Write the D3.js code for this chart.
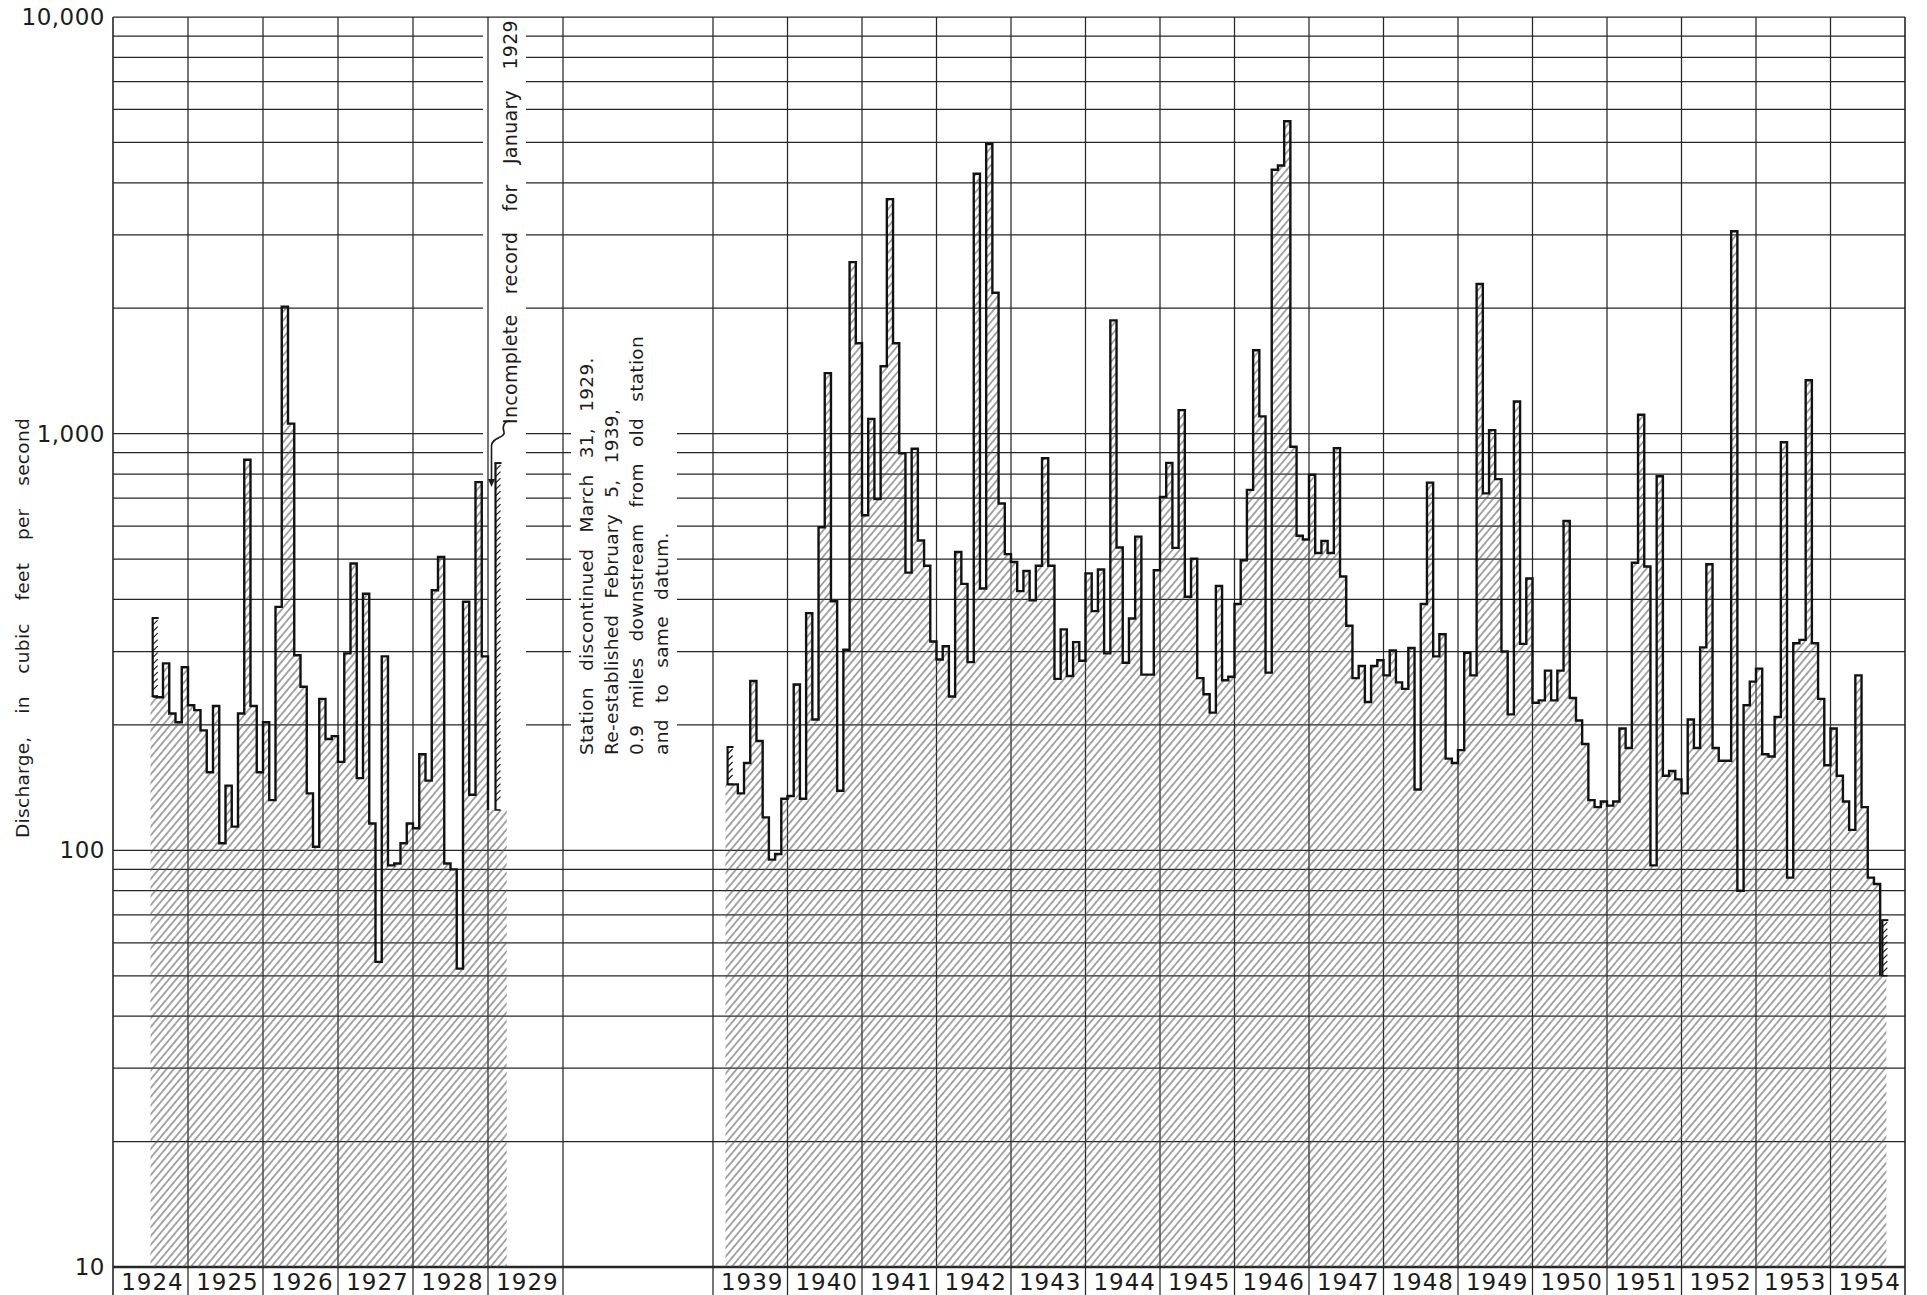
<!DOCTYPE html>
<html>
<head>
<meta charset="utf-8">
<script src="https://cdn.jsdelivr.net/npm/d3@7"></script>
<style>
  html, body { margin: 0; padding: 0; background: #fff; }
  svg { display: block; }
  text { font-family: "DejaVu Sans", sans-serif; fill: #1c1c1c; }
</style>
</head>
<body>
<div id="chart"></div>
<script>
// monthly mean discharge, cubic feet per second
// first record: July 1924 - December 1928
const earlyFlow = [
  234, 233, 281, 213, 203, 275,                              // 1924 Jul-Dec
  223, 217, 194, 154, 222, 104, 143, 114, 213, 866, 222, 154, // 1925
  203, 132, 384, 2018, 1057, 294, 247, 137, 102, 231, 185, 188, // 1926
  163, 297, 488, 149, 413, 116, 54, 292, 92, 93, 104, 116,    // 1927
  113, 170, 147, 421, 506, 93, 90, 52, 395, 136, 765, 292     // 1928
];
// January - March 1929, hatched below the incomplete January record
const strip1929 = [125, 125, 125];

// second record: March 1939 - September 1954
const lateFlow = [
  144, 144, 137, 162, 255, 183, 120, 95, 98, 133,             // 1939 Mar-Dec
  135, 250, 133, 371, 206, 596, 1397, 396, 139, 303, 2580, 1648, // 1940
  637, 1085, 697, 1451, 3655, 1648, 897, 464, 920, 554, 482, 317, // 1941
  287, 309, 234, 520, 436, 283, 4207, 425, 4955, 2178, 680, 514,  // 1942
  492, 419, 468, 398, 482, 873, 482, 258, 339, 262, 316, 285,     // 1943
  462, 375, 472, 297, 1870, 533, 282, 360, 566, 264, 264, 470,    // 1944
  705, 851, 532, 1139, 406, 501, 259, 237, 214, 431, 256, 261,    // 1945
  390, 497, 733, 1585, 1100, 267, 4300, 4400, 5623, 930, 569, 557, // 1946
  797, 517, 553, 517, 923, 454, 346, 259, 277, 227, 277, 286,     // 1947
  263, 302, 253, 244, 306, 140, 390, 763, 292, 330, 166, 162,     // 1948
  174, 298, 263, 2286, 719, 1020, 778, 300, 212, 1195, 313, 449,  // 1949
  226, 229, 270, 229, 270, 617, 232, 205, 180, 132, 127, 131,     // 1950
  128, 131, 196, 176, 490, 1110, 480, 92, 790, 151, 155, 148,     // 1951
  137, 206, 176, 307, 486, 176, 164, 164, 3060, 80, 223, 254,     // 1952
  273, 170, 168, 209, 954, 86, 314, 320, 1343, 314, 231, 160,     // 1953
  196, 151, 131, 112, 263, 127, 86, 83, 50                        // 1954 Jan-Sep
];

// months with part record only: drawn as a ticked range
const partialMonths = [
  { year: 1924, month: 6, low: 234, high: 361 },
  { year: 1929, month: 0, low: 125, high: 850 },
  { year: 1939, month: 2, low: 144, high: 177 },
  { year: 1954, month: 8, low: 50, high: 68 }
];

const earlyYears = [1924, 1925, 1926, 1927, 1928, 1929];
const lateYears = [1939, 1940, 1941, 1942, 1943, 1944, 1945, 1946,
                   1947, 1948, 1949, 1950, 1951, 1952, 1953, 1954];
const yLabelValues = [10, 100, 1000, 10000];

const width = 1927;
const height = 1295;
const plotTop = 17;
const plotBottom = 1267;
const plotLeft = 113;
const plotRight = 1905;

const y = d3.scaleLog().domain([10, 10000]).range([plotBottom, plotTop]);
const xEarly = d3.scaleLinear().domain([1924, 1930]).range([plotLeft, 563]);
const xLate = d3.scaleLinear().domain([1939, 1955]).range([713, plotRight]);

const svg = d3.select("#chart").append("svg")
  .attr("width", width).attr("height", height)
  .attr("viewBox", `0 0 ${width} ${height}`);
svg.append("rect").attr("width", width).attr("height", height).attr("fill", "#fff");

const defs = svg.append("defs");
defs.append("pattern")
  .attr("id", "hatch")
  .attr("patternUnits", "userSpaceOnUse")
  .attr("width", 5.6).attr("height", 10)
  .attr("patternTransform", "rotate(40)")
  .append("line")
  .attr("x1", 2.8).attr("y1", 0).attr("x2", 2.8).attr("y2", 10)
  .attr("stroke", "#505050").attr("stroke-width", 1);

const gridG = svg.append("g");
const areaG = svg.append("g");
const lineG = svg.append("g");
const annoG = svg.append("g");

// ---- annotations first, so the grid can leave room for them
function spaceWords(sel, target) {
  const len = sel.node().getComputedTextLength();
  const gaps = (sel.text().match(/ /g) || []).length;
  if (gaps) sel.attr("word-spacing", Math.max(0, (target - len) / gaps));
}

const stationLines = [
  "Station discontinued March 31, 1929.",
  "Re-established February 5, 1939,",
  "0.9 miles downstream from old station",
  "and to same datum."
];
const stationG = annoG.append("g");
const stationX = xEarly(1930) + 30;
const stationTexts = stationG.selectAll("text")
  .data(stationLines)
  .join("text")
  .attr("transform", (d, i) => `translate(${stationX + i * 25},755) rotate(-90)`)
  .style("font-size", "18.5px")
  .style("letter-spacing", "0.3px")
  .text(d => d);
spaceWords(d3.select(stationTexts.nodes()[2]), 419);
stationTexts.attr("word-spacing", d3.select(stationTexts.nodes()[2]).attr("word-spacing"));

// x of the ticked range drawn for a part-record month
const combX = (p) => {
  const x = p.year < 1935 ? xEarly : xLate;
  // the January 1929 range sits in the middle of the Jan-Mar 1929 strip
  const m = p.year === 1929 ? p.month + strip1929.length / 2 - 0.3 : p.month + 0.35;
  return x(p.year + m / 12);
};
const jan1929 = partialMonths[1];
const cx1929 = combX(jan1929);

const incG = annoG.append("g");
const incX = xEarly(1929) + 29;
const incText = incG.append("text")
  .attr("transform", `translate(${incX},424) rotate(-90)`)
  .style("font-size", "19px")
  .style("letter-spacing", "0.3px")
  .text("Incomplete record for January 1929");
spaceWords(incText, 404);

// leader from the note down to the January 1929 range
const tipX = cx1929 - 4;
const tipY = y(jan1929.high) + 24;
incG.append("path")
  .attr("d", `M${incX - 7},421 C${incX - 13},421 ${incX - 15},427 ${incX - 13},432`
    + ` C${incX - 11},438 ${tipX},437 ${tipX},446 L${tipX},${tipY - 6}`)
  .attr("fill", "none").attr("stroke", "#1c1c1c").attr("stroke-width", 1.6);
incG.append("path")
  .attr("d", `M${tipX - 3.5},${tipY - 8} L${tipX + 3.5},${tipY - 8} L${tipX},${tipY} Z`)
  .attr("fill", "#1c1c1c");

// y axis title
const yTitle = annoG.append("text")
  .attr("transform", "translate(29,628) rotate(-90)")
  .attr("text-anchor", "middle")
  .style("font-size", "18.5px")
  .style("letter-spacing", "0.3px")
  .text("Discharge, in cubic feet per second");
spaceWords(yTitle, 420);

// ---- grid
const pad = 5;
const sb = stationG.node().getBBox();
const ib = incG.node().getBBox();
const blanks = [
  { x0: sb.x - pad, x1: sb.x + sb.width + pad, y0: sb.y, y1: sb.y + sb.height },
  { x0: ib.x - pad, x1: ib.x + ib.width + pad, y0: ib.y, y1: ib.y + ib.height },
  { x0: cx1929 - 8, x1: ib.x + ib.width + pad, y0: y(jan1929.high) - 4, y1: y(jan1929.low) + 4 }
];

function gridSegments(yy) {
  let segs = [[plotLeft, plotRight]];
  blanks.filter(b => yy > b.y0 && yy < b.y1).forEach(b => {
    segs = segs.flatMap(([a, c]) => {
      if (b.x1 <= a || b.x0 >= c) return [[a, c]];
      const out = [];
      if (b.x0 > a) out.push([a, b.x0]);
      if (b.x1 < c) out.push([b.x1, c]);
      return out;
    });
  });
  return segs;
}

y.ticks().forEach(v => {
  const yy = y(v);
  const segs = (v === 10 || v === 10000) ? [[plotLeft, plotRight]] : gridSegments(yy);
  segs.forEach(([a, c]) => {
    gridG.append("line")
      .attr("x1", a).attr("x2", c).attr("y1", yy).attr("y2", yy)
      .attr("stroke", "#262626")
      .attr("stroke-width", v === 10 ? 2.6 : 1.25);
  });
});

const yearEdges = earlyYears.map(d => xEarly(d)).concat([xEarly(1930)])
  .concat(lateYears.map(d => xLate(d))).concat([xLate(1955)]);
gridG.selectAll("line.v")
  .data(yearEdges)
  .join("line")
  .attr("class", "v")
  .attr("x1", d => d).attr("x2", d => d)
  .attr("y1", plotTop).attr("y2", height)
  .attr("stroke", "#262626")
  .attr("stroke-width", (d, i) => (i === 0 || i === yearEdges.length - 1) ? 1.6 : 1.25);

// year labels in boxes along the bottom
gridG.selectAll("text.yr")
  .data(earlyYears.map(d => ({ d, x: (xEarly(d) + xEarly(d + 1)) / 2 + 2 }))
    .concat(lateYears.map(d => ({ d, x: (xLate(d) + xLate(d + 1)) / 2 + 2 }))))
  .join("text")
  .attr("class", "yr")
  .attr("x", d => d.x)
  .attr("y", 1282)
  .attr("text-anchor", "middle")
  .attr("dominant-baseline", "central")
  .style("font-size", "23px")
  .style("letter-spacing", "1px")
  .text(d => d.d);

// y labels
gridG.selectAll("text.yl")
  .data(yLabelValues)
  .join("text")
  .attr("class", "yl")
  .attr("x", plotLeft - 8)
  .attr("y", d => y(d))
  .attr("text-anchor", "end")
  .attr("dominant-baseline", "central")
  .style("font-size", "23px")
  .style("letter-spacing", "0.5px")
  .text(d => d3.format(",")(d));

// ---- hydrograph
function monthPoints(startYear, startMonth, values) {
  return values.map((v, i) => ({ t: startYear + (startMonth + i) / 12, v }));
}

const earlyArea = monthPoints(1924, 6, earlyFlow.concat(strip1929));
earlyArea.push({ t: 1929 + strip1929.length / 12, v: strip1929[strip1929.length - 1] });
const lateArea = monthPoints(1939, 2, lateFlow);
lateArea.push({ t: 1954 + 9 / 12, v: lateFlow[lateFlow.length - 1] });

const area = (x) => d3.area()
  .x(d => x(d.t))
  .y0(plotBottom)
  .y1(d => y(d.v))
  .curve(d3.curveStepAfter);

areaG.append("path").attr("d", area(xEarly)(earlyArea)).attr("fill", "url(#hatch)");
areaG.append("path").attr("d", area(xLate)(lateArea)).attr("fill", "url(#hatch)");

const earlyLine = monthPoints(1924, 6, earlyFlow);
earlyLine.push({ t: 1929, v: strip1929[0] });
const lateLine = monthPoints(1939, 2, lateFlow);

const outline = (x, first) => d3.line()
  .x((d, i) => (i === 0 ? first : x(d.t)))
  .y(d => y(d.v))
  .curve(d3.curveStepAfter);

[[xEarly, partialMonths[0], earlyLine], [xLate, partialMonths[2], lateLine]].forEach(([x, p, pts]) => {
  lineG.append("path")
    .attr("d", outline(x, combX(p))(pts))
    .attr("fill", "none").attr("stroke", "#121212").attr("stroke-width", 2.4)
    .attr("stroke-linejoin", "miter");
});

// part-record months: vertical range with ticks
partialMonths.forEach(p => {
  const x0 = combX(p);
  const yTop = y(p.high);
  const yLow = y(p.low);
  const g = lineG.append("g").attr("stroke", "#121212");
  g.append("line").attr("x1", x0).attr("x2", x0).attr("y1", yTop).attr("y2", yLow).attr("stroke-width", 2.2);
  g.append("line").attr("x1", x0 - 1).attr("x2", x0 + 6).attr("y1", yTop).attr("y2", yTop).attr("stroke-width", 2);
  g.append("line").attr("x1", x0 - 1).attr("x2", x0 + 5).attr("y1", yLow).attr("y2", yLow).attr("stroke-width", 1.6);
  d3.range(yTop + 7, yLow - 2, 6.5).forEach(yy => {
    g.append("line").attr("x1", x0).attr("x2", x0 + 5).attr("y1", yy).attr("y2", yy - 5).attr("stroke-width", 1.1);
  });
});
</script>
</body>
</html>
